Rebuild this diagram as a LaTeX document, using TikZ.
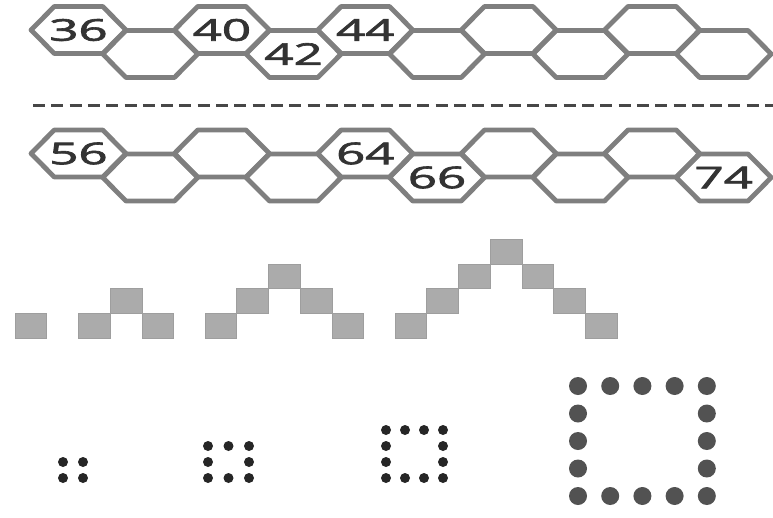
\documentclass[tikz,border=0pt]{standalone}
\usepackage{fontspec}
\usepackage{xcolor}
\usepackage{graphicx}
\usepackage{tikz}
\usetikzlibrary{positioning,calc}
\newfontfamily\cellfont[FakeBold=2]{Open Sans}
\definecolor{hexgray}{HTML}{7F7F7F}
\definecolor{tilegray}{HTML}{ABABAB}
\definecolor{numgray}{HTML}{333333}
\newcommand{\wide}[1]{\scalebox{1.7}[1]{#1}}

\begin{document}
\begin{tikzpicture}[
  x=1pt, y=-1pt,
  hexline/.style={draw=hexgray, line width=4.8pt, line join=round},
  hexcell/.pic={\draw[hexline] (-47.5,0) -- (-24.2,-23.5) -- (24.2,-23.5) -- (47.5,0) -- (24.2,23.5) -- (-24.2,23.5) -- cycle;},
  cellnum/.style={inner sep=0pt, text=numgray, font=\cellfont\fontsize{30}{30}\selectfont},
  tile/.style={draw=black!38, line width=0.5pt, fill=tilegray, minimum width=31.7pt, minimum height=24.75pt, inner sep=0pt},
  smallbead/.style={circle, fill=black!85, minimum size=10pt, inner sep=0pt},
  bigbead/.style={circle, fill=black!68, minimum size=18pt, inner sep=0pt},
  divider/.style={draw=black!72, line width=3pt, dash pattern=on 12pt off 6.3pt}
]
\useasboundingbox (0,0) rectangle (773,517);

\foreach \k in {0,...,9} {
  \pgfmathsetmacro\dy{24*mod(\k,2)}
  \coordinate (a\k) at ({78.5+71.7*\k},{30+\dy});
  \coordinate (b\k) at ({78.5+71.7*\k},{153.5+\dy});
  \pic at (a\k) {hexcell};
  \pic at (b\k) {hexcell};
}

\node[cellnum] (n36) at (a0) {\wide{36}};
\node[cellnum] (n40) at (a2) {\wide{40}};
\node[cellnum] (n42) at (a3) {\wide{42}};
\node[cellnum] (n44) at (a4) {\wide{44}};
\node[cellnum] (n56) at (b0) {\wide{56}};
\node[cellnum] (n64) at (b4) {\wide{64}};
\node[cellnum] (n66) at (b5) {\wide{66}};
\node[cellnum] (n74) at (b9) {\wide{74}};

\coordinate (cutL) at (33,105);
\coordinate (cutR) at (773,105);
\draw[divider] (cutL) -- (cutR);

\foreach \n/\s in {1/15,2/78.4,3/205,4/395} {
  \pgfmathtruncatemacro\last{2*\n-2}
  \foreach \i in {0,...,\last} {
    \pgfmathsetmacro\lev{\n-1-abs(\i-\n+1)}
    \node[tile] (t\n-\i) at ({\s+31.7*(\i+0.5)},{338-24.75*(\lev+0.5)}) {};
  }
}

\foreach \n/\xa/\ya/\dx/\dy/\bead in {2/63/462/20/16/smallbead, 3/208/446/20.5/16/smallbead, 4/386/430/19/16/smallbead, 5/578/386/32.2/27.5/bigbead} {
  \pgfmathtruncatemacro\last{\n-1}
  \foreach \i in {0,...,\last} {
    \foreach \j in {0,...,\last} {
      \pgfmathtruncatemacro\rim{(\i==0)||(\j==0)||(\i==\last)||(\j==\last)}
      \ifnum\rim=1
        \node[\bead] (d\n-\i-\j) at ({\xa+\dx*\i},{\ya+\dy*\j}) {};
      \fi
    }
  }
}
\end{tikzpicture}
\end{document}
